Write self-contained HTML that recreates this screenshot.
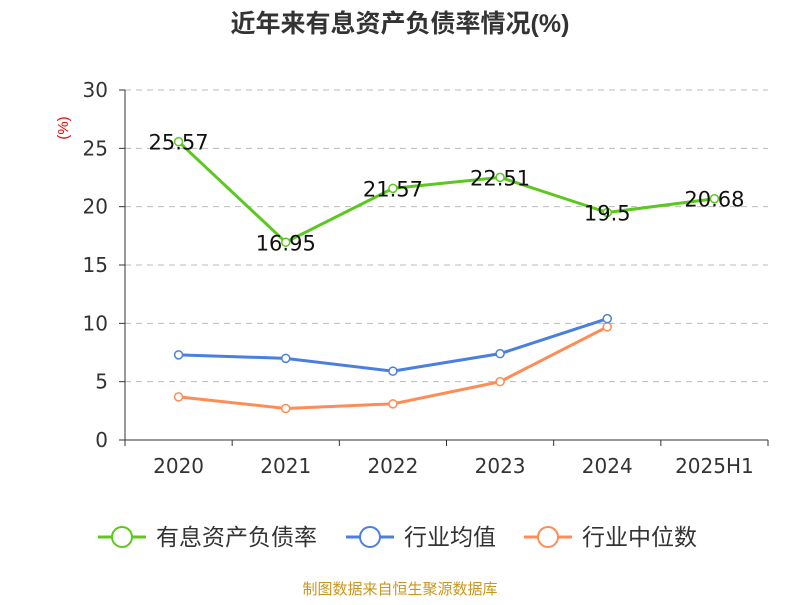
<!DOCTYPE html>
<html><head><meta charset="utf-8"><style>
body{margin:0;background:#fff;}
svg{font-family:"Liberation Sans","Noto Sans CJK SC",sans-serif;}
.dv{font-family:"DejaVu Sans","Liberation Sans",sans-serif;}
</style></head><body>
<svg id="chart" width="800" height="600">
<text x="400" y="32" text-anchor="middle" font-size="25" font-weight="bold" fill="#333">近年来有息资产负债率情况(%)</text>
<text x="68" y="128" text-anchor="middle" font-size="15" fill="#e00" transform="rotate(-90 68 128)">(%)</text>
<g id="grid"></g><g id="axes"></g><g id="series"></g>
<g>
<g><line x1="98" y1="537" x2="146" y2="537" stroke="#5cc81f" stroke-width="3"/><circle cx="122" cy="537" r="10" fill="#fff" stroke="#5cc81f" stroke-width="2"/><text x="156" y="545" font-size="23" fill="#333">有息资产负债率</text></g>
<g><line x1="346" y1="537" x2="394" y2="537" stroke="#4a7fe0" stroke-width="3"/><circle cx="370" cy="537" r="10" fill="#fff" stroke="#4a7fe0" stroke-width="2"/><text x="404" y="545" font-size="23" fill="#333">行业均值</text></g>
<g><line x1="524" y1="537" x2="572" y2="537" stroke="#ff8c55" stroke-width="3"/><circle cx="548" cy="537" r="10" fill="#fff" stroke="#ff8c55" stroke-width="2"/><text x="582" y="545" font-size="23" fill="#333">行业中位数</text></g>
</g>
<text x="400" y="594" text-anchor="middle" font-size="15" fill="#c8961e">制图数据来自恒生聚源数据库</text>
</svg>
<script>
const categories=["2020","2021","2022","2023","2024","2025H1"];
const debtRatio=[25.57,16.95,21.57,22.51,19.5,20.68];
const debtLabels=["25.57","16.95","21.57","22.51","19.5","20.68"];
const industryAvg=[7.3,7.0,5.9,7.4,10.4];
const industryMedian=[3.7,2.7,3.1,5.0,9.7];
const yTicks=[0,5,10,15,20,25,30];
const NS="http://www.w3.org/2000/svg";
const x0=125,x1=768,yTop=90,yBot=440,yMax=30;
const bw=(x1-x0)/categories.length;
const xs=i=>x0+bw*(i+0.5);
const ys=v=>yBot-(v/yMax)*(yBot-yTop);
function mk(tag,attrs,parent){const e=document.createElementNS(NS,tag);for(const k in attrs)e.setAttribute(k,attrs[k]);parent.appendChild(e);return e;}
const grid=document.getElementById('grid'),axes=document.getElementById('axes'),ser=document.getElementById('series');
yTicks.forEach(t=>{
 if(t>0){const g=mk('line',{x1:x0,x2:x1,y1:ys(t),y2:ys(t),stroke:'#bbb','stroke-dasharray':'6,5'},grid);
 
 }
 const tk=mk('line',{x1:x0-6,x2:x0,y1:ys(t),y2:ys(t),stroke:'#333'},axes);
 
 
 const l=mk('text',{x:x0-17,y:ys(t)+7,'text-anchor':'end','font-size':20,fill:'#333','class':'dv'},axes);
 l.textContent=t;
 
 
});
const ya=mk('line',{x1:x0,x2:x0,y1:yTop,y2:yBot,stroke:'#333'},axes);


const xa=mk('line',{x1:x0,x2:x1,y1:yBot,y2:yBot,stroke:'#333'},axes);


for(let i=0;i<=categories.length;i++){const t=mk('line',{x1:x0+bw*i,x2:x0+bw*i,y1:yBot,y2:yBot+6,stroke:'#333'},axes);
 
 }
categories.forEach((c,i)=>{const l=mk('text',{x:xs(i),y:yBot+33,'text-anchor':'middle','font-size':20,fill:'#333','class':'dv'},axes);l.textContent=c;
 
 });
function drawSeries(vals,color,name){
 const g=mk('g',{},ser);
 
 
 const p=mk('polyline',{points:vals.map((v,i)=>xs(i)+','+ys(v)).join(' '),fill:'none',stroke:color,'stroke-width':3},g);
 
 
 vals.forEach((v,i)=>{const c=mk('circle',{cx:xs(i),cy:ys(v),r:4,fill:'#fff',stroke:color,'stroke-width':1.5},g);
  
  });
 return g;
}
drawSeries(industryMedian,'#ff8c55','industry-median');
drawSeries(industryAvg,'#4a7fe0','industry-average');
const dg=drawSeries(debtRatio,'#5cc81f','debt-ratio');
debtRatio.forEach((v,i)=>{const l=mk('text',{x:xs(i),y:ys(v)+8,'text-anchor':'middle','font-size':21,fill:'#111','class':'dv'},dg);l.textContent=debtLabels[i];
 
 });
</script>
</body></html>
